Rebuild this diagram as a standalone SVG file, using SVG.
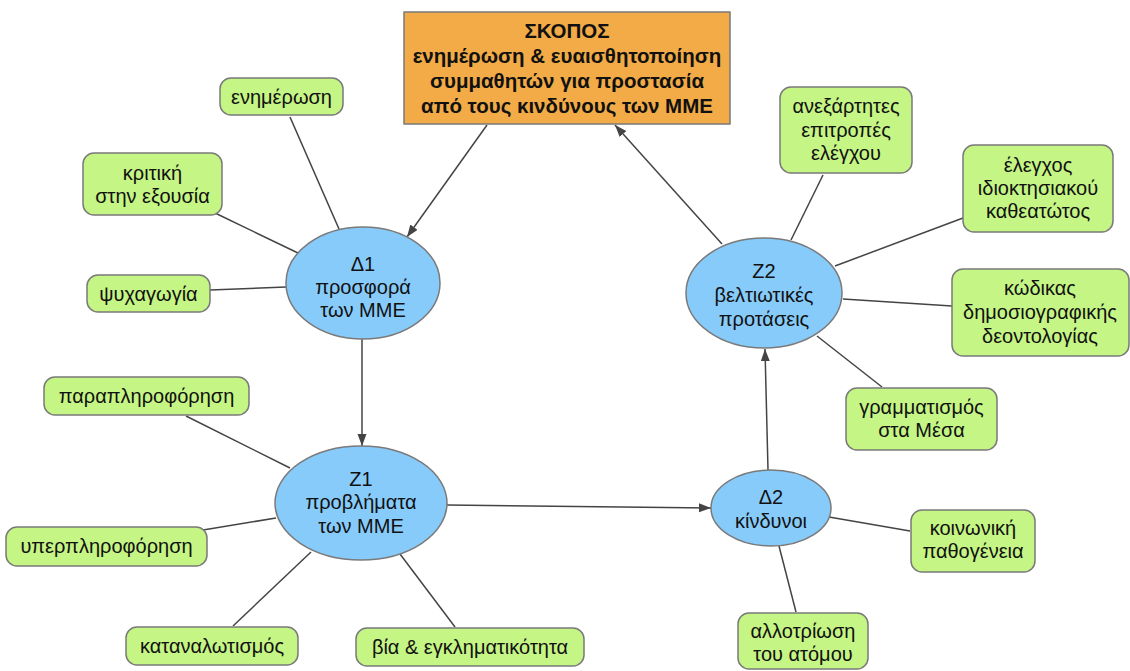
<svg xmlns="http://www.w3.org/2000/svg" width="1130" height="671" viewBox="0 0 1130 671">
<defs>
<marker id="arr" markerWidth="13" markerHeight="10" refX="12" refY="4.5" orient="auto" markerUnits="userSpaceOnUse">
<path d="M0,0 L12,4.5 L0,9 z" fill="#444"/>
</marker>
<style>
.box{fill:#c5f584;stroke:#7a7a7a;stroke-width:1.5}
.ell{fill:#87cbfb;stroke:#7a7a7a;stroke-width:1.5}
.goal{fill:#f2ab46;stroke:#7a7a7a;stroke-width:1.5}
text{font-family:"Liberation Sans",Arial,sans-serif;font-size:20px;fill:#111;text-anchor:middle}
.b{font-weight:bold;font-size:20.5px}
.c line{stroke:#444;stroke-width:1.5}
.a{marker-end:url(#arr)}
</style>
</defs>
<rect width="1130" height="671" fill="#fff"/>
<g class="c" id="connectors">
<line x1="290" y1="117" x2="339" y2="229"/>
<line x1="215" y1="213" x2="298" y2="253"/>
<line x1="210" y1="290" x2="286" y2="287"/>
<line x1="186" y1="416" x2="290" y2="468"/>
<line x1="203" y1="530" x2="276" y2="518"/>
<line x1="233" y1="626" x2="311" y2="552"/>
<line x1="455" y1="627" x2="400" y2="554"/>
<line x1="823" y1="175" x2="791" y2="240"/>
<line x1="963" y1="218" x2="835" y2="266"/>
<line x1="952" y1="306" x2="843" y2="299"/>
<line x1="882" y1="387" x2="817" y2="336"/>
<line x1="829" y1="517" x2="910" y2="531"/>
<line x1="779" y1="546" x2="796" y2="612"/>
<line class="a" x1="487" y1="125" x2="407" y2="237"/>
<line class="a" x1="362" y1="339" x2="362" y2="446"/>
<line class="a" x1="447" y1="505" x2="711" y2="508"/>
<line class="a" x1="768" y1="470" x2="765" y2="349"/>
<line class="a" x1="722" y1="244" x2="615" y2="125"/>
</g>
<g id="goal">
<rect class="goal" x="404" y="12" width="326" height="112"/>
<text class="b" x="567" y="38">ΣΚΟΠΟΣ</text>
<text class="b" x="567" y="63">ενημέρωση &amp; ευαισθητοποίηση</text>
<text class="b" x="567" y="88">συμμαθητών για προστασία</text>
<text class="b" x="567" y="113">από τους κινδύνους των ΜΜΕ</text>
</g>
<g id="d1">
<ellipse class="ell" cx="363" cy="283" rx="77" ry="56"/>
<text x="363" y="271">Δ1</text>
<text x="363" y="294">προσφορά</text>
<text x="363" y="317">των ΜΜΕ</text>
</g>
<g id="z1">
<ellipse class="ell" cx="361" cy="503" rx="86" ry="57"/>
<text x="361" y="486">Ζ1</text>
<text x="361" y="509">προβλήματα</text>
<text x="361" y="533">των ΜΜΕ</text>
</g>
<g id="d2">
<ellipse class="ell" cx="771" cy="508" rx="60" ry="38"/>
<text x="771" y="504">Δ2</text>
<text x="771" y="528">κίνδυνοι</text>
</g>
<g id="z2">
<ellipse class="ell" cx="764" cy="293" rx="78" ry="55"/>
<text x="764" y="278">Ζ2</text>
<text x="764" y="302">βελτιωτικές</text>
<text x="764" y="326">προτάσεις</text>
</g>
<g id="enimerosi">
<rect class="box" x="220" y="78" width="123" height="37" rx="11"/>
<text x="281.5" y="104">ενημέρωση</text>
</g>
<g id="kritiki">
<rect class="box" x="83" y="153" width="139" height="62" rx="11"/>
<text x="152.5" y="180">κριτική</text>
<text x="152.5" y="203">στην εξουσία</text>
</g>
<g id="psychagogia">
<rect class="box" x="87" y="275" width="123" height="37" rx="11"/>
<text x="148.5" y="301">ψυχαγωγία</text>
</g>
<g id="parapliroforisi">
<rect class="box" x="44" y="377" width="205" height="38" rx="11"/>
<text x="146.5" y="403">παραπληροφόρηση</text>
</g>
<g id="yperpliroforisi">
<rect class="box" x="6" y="527" width="201" height="39" rx="11"/>
<text x="106.5" y="553">υπερπληροφόρηση</text>
</g>
<g id="katanalotismos">
<rect class="box" x="126" y="627" width="172" height="38" rx="11"/>
<text x="212" y="653">καταναλωτισμός</text>
</g>
<g id="via">
<rect class="box" x="356" y="628" width="228" height="38" rx="11"/>
<text x="470" y="654">βία &amp; εγκληματικότητα</text>
</g>
<g id="anexartites">
<rect class="box" x="780" y="87" width="132" height="86" rx="11"/>
<text x="846" y="113">ανεξάρτητες</text>
<text x="846" y="137">επιτροπές</text>
<text x="846" y="160">ελέγχου</text>
</g>
<g id="elegchos">
<rect class="box" x="963" y="145" width="150" height="87" rx="11"/>
<text x="1038" y="172">έλεγχος</text>
<text x="1038" y="195">ιδιοκτησιακού</text>
<text x="1038" y="218">καθεατώτος</text>
</g>
<g id="kodikas">
<rect class="box" x="952" y="269" width="177" height="87" rx="11"/>
<text x="1040" y="295">κώδικας</text>
<text x="1040" y="319">δημοσιογραφικής</text>
<text x="1040" y="343">δεοντολογίας</text>
</g>
<g id="grammatismos">
<rect class="box" x="846" y="388" width="151" height="62" rx="11"/>
<text x="921.5" y="414">γραμματισμός</text>
<text x="921.5" y="437">στα Μέσα</text>
</g>
<g id="koinoniki">
<rect class="box" x="911" y="510" width="124" height="62" rx="11"/>
<text x="973" y="535">κοινωνική</text>
<text x="973" y="558">παθογένεια</text>
</g>
<g id="allotriosi">
<rect class="box" x="738" y="613" width="130" height="56" rx="11"/>
<text x="803" y="638">αλλοτρίωση</text>
<text x="803" y="661">του ατόμου</text>
</g>
</svg>
